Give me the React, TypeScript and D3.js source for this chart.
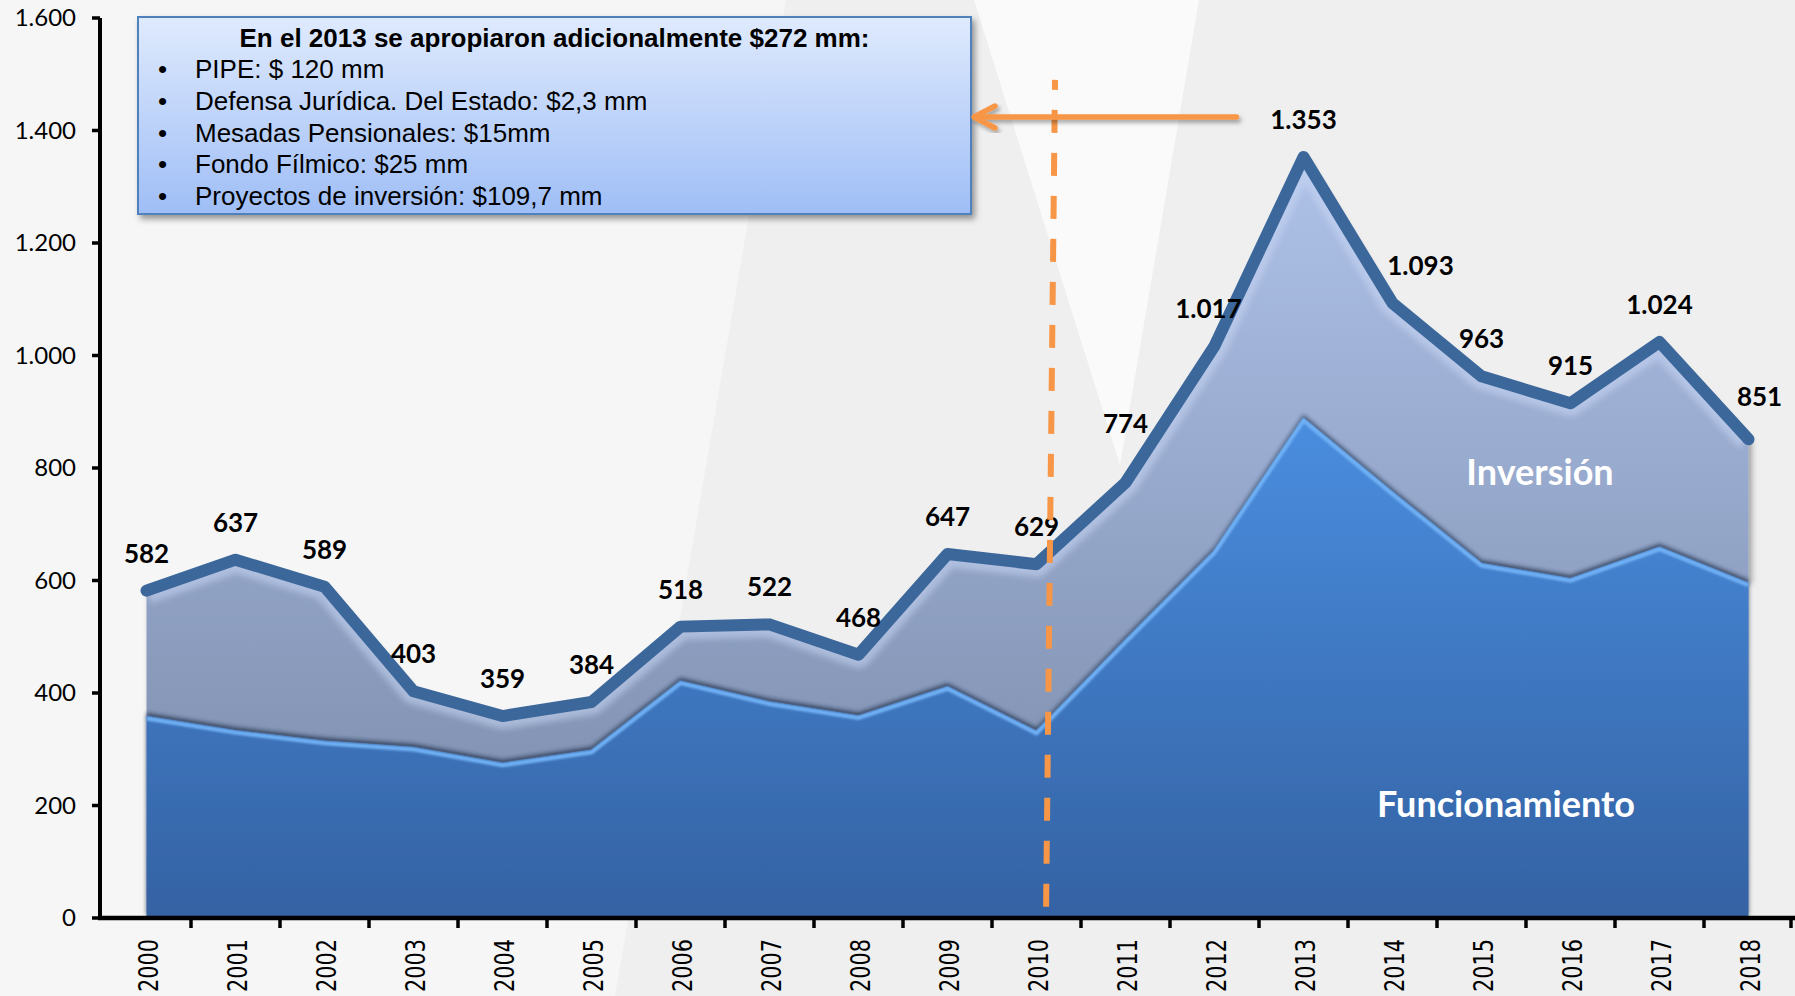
import React, { useRef, useEffect } from 'react';
import * as d3 from 'd3';

const years = ['2000', '2001', '2002', '2003', '2004', '2005', '2006', '2007', '2008', '2009',
    '2010', '2011', '2012', '2013', '2014', '2015', '2016', '2017', '2018'];
const funcionamiento = [359, 334, 315, 304, 276, 299, 422, 385, 360, 412, 333, 495, 654, 889, 758, 631, 604, 660, 596];
const inversion = [223, 303, 274, 99, 83, 85, 96, 137, 108, 235, 296, 279, 363, 464, 335, 332, 311, 364, 255];
const yTicks = [0, 200, 400, 600, 800, 1000, 1200, 1400, 1600];
const noteTitle = 'En el 2013 se apropiaron adicionalmente $272 mm:';
const noteItems = [
    'PIPE: $ 120 mm',
    'Defensa Jurídica. Del Estado: $2,3 mm',
    'Mesadas Pensionales: $15mm',
    'Fondo Fílmico: $25 mm',
    'Proyectos de inversión: $109,7 mm',
];

const W = 1795;
const H = 996;

const esFormat = d3.formatLocale({ decimal: ',', thousands: '.', grouping: [3], currency: ['$', ''] }).format(',d');

const App = () => {
    const svgRef = useRef<SVGSVGElement>(null);

    useEffect(() => {
        const svg = d3.select(svgRef.current);
        svg.selectAll('*').remove();

        const x = d3.scaleBand().domain(years).range([102, 1793]);
        const cx = (d: string) => (x(d) as number) + x.bandwidth() / 2;
        const y = d3.scaleLinear().domain([0, 1600]).range([918, 18]);

        const rows = years.map((year, i) => ({ year, funcionamiento: funcionamiento[i], inversion: inversion[i] }));
        const stacked = d3.stack<any>().keys(['funcionamiento', 'inversion'])(rows);

        // defs: gradients + shadows
        const defs = svg.append('defs');
        const grad = (id: string, y1: number, y2: number, c1: string, c2: string) => {
            const g = defs.append('linearGradient').attr('id', id)
                .attr('gradientUnits', 'userSpaceOnUse')
                .attr('x1', 0).attr('x2', 0).attr('y1', y1).attr('y2', y2);
            g.append('stop').attr('offset', 0).attr('stop-color', c1);
            g.append('stop').attr('offset', 1).attr('stop-color', c2);
        };
        grad('gInv', y(1350), y(300), '#aec1e8', '#8495b5');
        grad('gFun', y(900), y(0), '#4a8ee0', '#3462a3');
        grad('gBox', 17, 214, '#dfeafd', '#9fbef6');

        const shadow = (id: string, dx: number, dy: number, sd: number, op: number, color = '#000') => {
            defs.append('filter').attr('id', id)
                .attr('x', '-10%').attr('y', '-10%').attr('width', '120%').attr('height', '130%')
                .append('feDropShadow')
                .attr('dx', dx).attr('dy', dy).attr('stdDeviation', sd)
                .attr('flood-color', color).attr('flood-opacity', op);
        };
        shadow('shArea', 3, 2, 3, 0.35);
        shadow('shUp', 0, -3, 2.2, 0.75, '#1c2840');
        shadow('shBox', 3, 4, 3, 0.4);
        shadow('shArrow', 2, 3, 2, 0.35);
        defs.append('filter').attr('id', 'blur3').append('feGaussianBlur').attr('stdDeviation', 3);
        defs.append('filter').attr('id', 'blur1').append('feGaussianBlur').attr('stdDeviation', 0.8);

        // background
        svg.append('rect').attr('width', W).attr('height', H).attr('fill', '#efefef');
        svg.append('polygon').attr('points', '0,0 786,0 615,996 0,996').attr('fill', '#f6f6f6');
        svg.append('polygon').attr('points', '974,0 1199,0 1120,465').attr('fill', '#fafafa');

        const area = d3.area<any>()
            .x(d => cx(d.data.year))
            .y0(d => y(d[0]))
            .y1(d => y(d[1]));
        const topLine = d3.line<any>()
            .x(d => cx(d.data.year))
            .y(d => y(d[1]));

        const areas = svg.append('g').attr('filter', 'url(#shArea)');
        areas.append('path')
            .attr('d', area(stacked[1]))
            .attr('fill', 'url(#gInv)');

        defs.append('clipPath').attr('id', 'clipInv')
            .append('path').attr('d', area(stacked[1]));

        // soft glow below the total line
        svg.append('path')
            .attr('d', topLine(stacked[1]))
            .attr('clip-path', 'url(#clipInv)')
            .attr('fill', 'none')
            .attr('stroke', '#c9d7f4')
            .attr('stroke-width', 26)
            .attr('stroke-linejoin', 'round')
            .attr('opacity', 0.55)
            .attr('filter', 'url(#blur3)');

        svg.append('path')
            .attr('d', area(stacked[0]))
            .attr('fill', 'url(#gFun)')
            .attr('filter', 'url(#shUp)');

        svg.append('path')
            .attr('d', topLine(stacked[0]))
            .attr('transform', 'translate(0,2.5)')
            .attr('fill', 'none')
            .attr('stroke', '#72b2f6')
            .attr('stroke-width', 4)
            .attr('filter', 'url(#blur1)');

        // total line
        svg.append('path')
            .attr('d', topLine(stacked[1]))
            .attr('fill', 'none')
            .attr('stroke', '#3c679b')
            .attr('stroke-width', 12)
            .attr('stroke-linejoin', 'round')
            .attr('stroke-linecap', 'round');

        // axes
        svg.append('line')
            .attr('x1', 100).attr('x2', 100).attr('y1', y(1600)).attr('y2', y(0) + 2)
            .attr('stroke', '#000').attr('stroke-width', 4);
        svg.append('line')
            .attr('x1', 98).attr('x2', W).attr('y1', y(0)).attr('y2', y(0))
            .attr('stroke', '#000').attr('stroke-width', 4.5);

        const yAxis = svg.append('g');
        yAxis.selectAll('line').data(yTicks).join('line')
            .attr('x1', 92).attr('x2', 100)
            .attr('y1', d => y(d)).attr('y2', d => y(d))
            .attr('stroke', '#000').attr('stroke-width', 3.5);
        yAxis.selectAll('text').data(yTicks).join('text')
            .attr('x', 76).attr('y', d => y(d)).attr('dy', '0.35em')
            .attr('text-anchor', 'end')
            .attr('font-family', 'Lato, sans-serif').attr('font-size', 24)
            .attr('fill', '#000')
            .text(d => esFormat(d));

        const xAxis = svg.append('g');
        xAxis.selectAll('line').data([...years.slice(1).map(d => x(d) as number), 1791]).join('line')
            .attr('x1', d => d).attr('x2', d => d)
            .attr('y1', y(0)).attr('y2', y(0) + 10)
            .attr('stroke', '#000').attr('stroke-width', 3.5);
        xAxis.selectAll('text').data(years).join('text')
            .attr('transform', d => `translate(${cx(d) + 2},939) rotate(-90) scale(0.8,1)`)
            .attr('dy', '0.36em')
            .attr('text-anchor', 'end')
            .attr('font-family', '"DejaVu Sans", Verdana, sans-serif').attr('font-size', 26)
            .attr('fill', '#000')
            .text(d => d);

        // data labels (a few nudged like in the original)
        const nudge: Record<string, [number, number]> = {
            '2011': [0, -22], '2012': [-6, 0], '2014': [28, 0], '2018': [11, -5],
        };
        svg.append('g').selectAll('text').data(stacked[1]).join('text')
            .attr('x', (d: any) => cx(d.data.year) + (nudge[d.data.year] || [0, 0])[0])
            .attr('y', (d: any) => y(d[1]) - 28 + (nudge[d.data.year] || [0, 0])[1])
            .attr('text-anchor', 'middle')
            .attr('font-family', 'Lato, sans-serif').attr('font-weight', 'bold').attr('font-size', 26)
            .attr('fill', '#000')
            .text((d: any) => esFormat(d[1]));

        // series names
        svg.append('text')
            .attr('x', 1540).attr('y', 485)
            .attr('text-anchor', 'middle')
            .attr('font-family', 'Lato, sans-serif').attr('font-weight', 'bold').attr('font-size', 36)
            .attr('fill', '#fff')
            .text('Inversión');
        svg.append('text')
            .attr('x', 1506).attr('y', 817)
            .attr('text-anchor', 'middle')
            .attr('font-family', 'Lato, sans-serif').attr('font-weight', 'bold').attr('font-size', 36)
            .attr('fill', '#fff')
            .text('Funcionamiento');

        // orange dashed marker near 2010
        const dx0 = cx('2010');
        svg.append('line')
            .attr('x1', dx0 + 18.5).attr('y1', y(1490))
            .attr('x2', dx0 + 9.5).attr('y2', y(0) - 2)
            .attr('stroke', '#f79646')
            .attr('stroke-width', 6)
            .attr('stroke-dasharray', '23 20')
            .attr('stroke-dashoffset', 13);

        // note box
        const note = svg.append('g');
        note.append('rect')
            .attr('x', 138).attr('y', 17).attr('width', 833).attr('height', 197)
            .attr('fill', 'url(#gBox)')
            .attr('stroke', '#4f81bd').attr('stroke-width', 2)
            .attr('filter', 'url(#shBox)');
        note.append('text')
            .attr('x', 554.5).attr('y', 47)
            .attr('text-anchor', 'middle')
            .attr('font-family', '"Liberation Sans", Arial, sans-serif').attr('font-weight', 'bold').attr('font-size', 26)
            .attr('fill', '#000')
            .text(noteTitle);
        const items = note.selectAll('g.item').data(noteItems).join('g').attr('class', 'item')
            .attr('transform', (d, i) => `translate(0,${78 + i * 31.75})`)
            .attr('font-family', '"Liberation Sans", Arial, sans-serif').attr('font-size', 26)
            .attr('fill', '#000');
        items.append('text').attr('x', 162.5).attr('text-anchor', 'middle').text('•');
        items.append('text').attr('x', 195).text(d => d);

        // arrow pointing at the note
        const arrowY = y(1424);
        const arrow = svg.append('g')
            .attr('stroke', '#f79646').attr('stroke-width', 5.5)
            .attr('stroke-linecap', 'round').attr('stroke-linejoin', 'round')
            .attr('fill', 'none')
            .attr('filter', 'url(#shArrow)');
        arrow.append('line')
            .attr('x1', cx('2012') + 22).attr('y1', arrowY)
            .attr('x2', 975).attr('y2', arrowY);
        arrow.append('path')
            .attr('d', `M995,${arrowY - 11}L974,${arrowY}L995,${arrowY + 11}`);
    }, []);

    return (
        <>
            <style>{'body{margin:0}'}</style>
            <svg ref={svgRef} width={W} height={H} style={{ display: 'block' }}></svg>
        </>
    );
};

export default App;
